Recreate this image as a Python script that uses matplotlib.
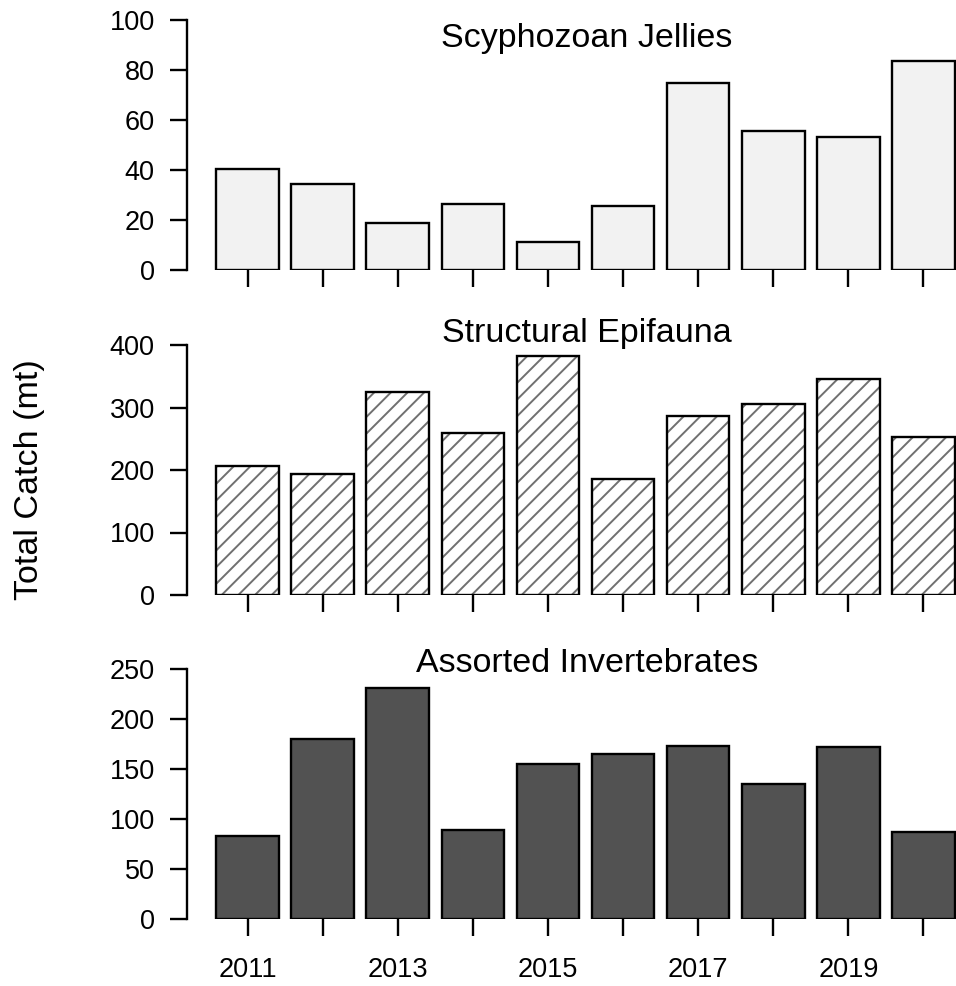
import matplotlib
matplotlib.use('Agg')
import matplotlib.pyplot as plt

plt.rcParams['font.family'] = ['Liberation Sans', 'DejaVu Sans']
plt.rcParams['hatch.linewidth'] = 1.4

# --- Data ---
years = [2011, 2012, 2013, 2014, 2015, 2016, 2017, 2018, 2019, 2020]
jellies = [40.4, 34.4, 18.7, 26.5, 11.4, 25.7, 74.7, 55.7, 53.3, 83.6]
epifauna = [205.9, 194.1, 324.8, 259.7, 381.9, 185.6, 285.9, 305.6, 345.6, 253.3]
inverts = [83.6, 180.1, 231.6, 89.2, 155.7, 165.8, 173.8, 135.4, 172.8, 87.2]

titles = ["Scyphozoan Jellies", "Structural Epifauna", "Assorted Invertebrates"]
y_tops = [100, 400, 250]
y_steps = [20, 100, 50]

# --- Canvas (pixel layout) ---
W, H = 956, 986
fig = plt.figure(figsize=(W / 100, H / 100), dpi=100)

left_px, right_px = 186.7, 984.3
base_px = [270, 595, 919.3]      # pixel row of y = 0 in each panel
panel_h = 250
title_base = [46.7, 341.7, 671.7]

TICK_FS = 19.5
TITLE_FS = 24.5
EDGE_LW = 1.7

series = [jellies, epifauna, inverts]
x = list(range(len(years)))

for i, vals in enumerate(series):
    ax = fig.add_axes([left_px / W, 1 - base_px[i] / H, (right_px - left_px) / W, panel_h / H])
    ax.set_xlim(-0.81, 9.81)
    ax.set_ylim(0, y_tops[i])

    if i == 0:
        ax.bar(x, vals, width=1 / 1.2, color='#f2f2f2', edgecolor='black', lw=EDGE_LW, zorder=2)
    elif i == 1:
        # hatch in grey, outline in black
        ax.bar(x, vals, width=1 / 1.2, color='white', edgecolor='#707070', hatch='//', lw=0, zorder=2)
        ax.bar(x, vals, width=1 / 1.2, color='none', edgecolor='black', lw=EDGE_LW, zorder=3)
    else:
        ax.bar(x, vals, width=1 / 1.2, color='#525252', edgecolor='black', lw=EDGE_LW, zorder=2)

    for s in ['top', 'right', 'bottom']:
        ax.spines[s].set_visible(False)
    ax.spines['left'].set_linewidth(EDGE_LW)
    ax.spines['left'].set_bounds(0, y_tops[i])

    ax.set_yticks(range(0, y_tops[i] + 1, y_steps[i]))
    ax.tick_params(axis='y', direction='out', length=12, width=EDGE_LW, labelsize=TICK_FS, pad=11)
    ax.set_xticks(x)
    ax.tick_params(axis='x', direction='out', length=12.5, width=EDGE_LW, labelsize=TICK_FS, pad=15)
    if i == 2:
        ax.set_xticklabels([str(y) if j % 2 == 0 else '' for j, y in enumerate(years)])
    else:
        ax.set_xticklabels([])

    fig.text(587 / W, 1 - title_base[i] / H, titles[i], ha='center', va='baseline', fontsize=TITLE_FS)

fig.text(30 / W, 1 - 480 / H, "Total Catch (mt)", rotation=90, ha='center', va='center', fontsize=TITLE_FS)

fig.savefig('out.png', dpi=100, facecolor='white')
plt.close()
